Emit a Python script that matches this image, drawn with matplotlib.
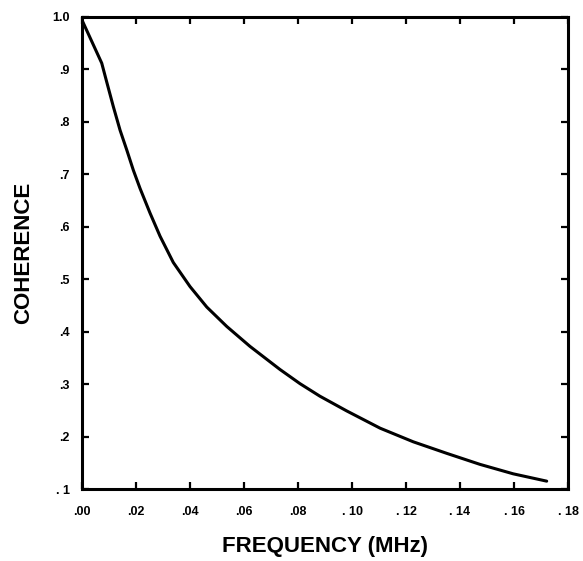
import matplotlib
matplotlib.use("Agg")
import matplotlib.pyplot as plt

# curve
freq_mhz = [0.0000, 0.0073, 0.0091, 0.0116, 0.0141, 0.0166, 0.0190, 0.0215,
            0.0252, 0.0289, 0.0338, 0.0400, 0.0462, 0.0536, 0.0622, 0.0733,
            0.0807, 0.0881, 0.0980, 0.1104, 0.1227, 0.1351, 0.1474, 0.1597,
            0.1721]
coherence = [0.994, 0.912, 0.877, 0.829, 0.784, 0.746, 0.708, 0.673,
             0.626, 0.582, 0.532, 0.486, 0.447, 0.410, 0.372, 0.328,
             0.301, 0.277, 0.249, 0.216, 0.190, 0.168, 0.147, 0.129,
             0.115]

x_ticks = [0.00, 0.02, 0.04, 0.06, 0.08, 0.10, 0.12, 0.14, 0.16, 0.18]
x_labels = [".00", ".02", ".04", ".06", ".08", ". 10", ". 12", ". 14", ". 16", ". 18"]
y_ticks = [0.1, 0.2, 0.3, 0.4, 0.5, 0.6, 0.7, 0.8, 0.9, 1.0]
y_labels = [". 1", ".2", ".3", ".4", ".5", ".6", ".7", ".8", ".9", "1.0"]

plt.rcParams["font.family"] = ["Liberation Sans", "DejaVu Sans"]

fig = plt.figure(figsize=(5.83, 5.61), dpi=100)
ax = fig.add_axes([0.1407, 0.1283, 0.8336, 0.8414])

ax.plot(freq_mhz, coherence, color="black", lw=2.2,
        solid_capstyle="round", solid_joinstyle="round")

ax.set_xlim(0, 0.18)
ax.set_ylim(0.1, 1.0)
ax.set_xticks(x_ticks)
ax.set_xticklabels(x_labels, fontsize=9, fontweight="bold")
ax.set_yticks(y_ticks)
ax.set_yticklabels(y_labels, fontsize=9, fontweight="bold")
ax.tick_params(direction="in", length=5, width=1.6, top=True, right=True,
               labeltop=False, labelright=False)
ax.tick_params(axis="x", pad=12)
ax.tick_params(axis="y", pad=9)
for s in ax.spines.values():
    s.set_linewidth(2.2)

ax.set_xlabel("FREQUENCY (MHz)", fontsize=16, fontweight="bold", labelpad=13)
ax.set_ylabel("COHERENCE", fontsize=16, fontweight="bold", labelpad=13)

fig.savefig("out.png", dpi=100)
